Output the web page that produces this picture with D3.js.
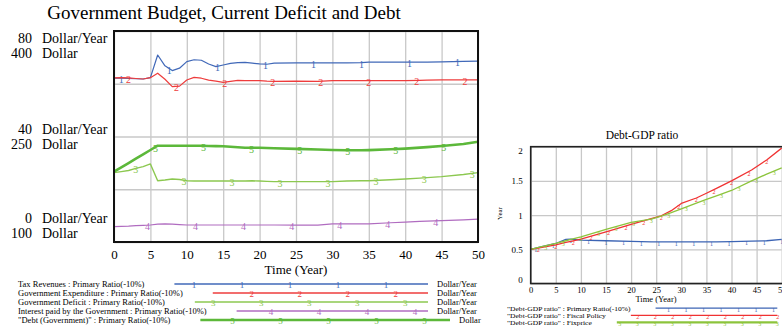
<!DOCTYPE html>
<html>
<head>
<meta charset="utf-8">
<script src="https://cdn.jsdelivr.net/npm/d3@7"></script>
<style>
  body { margin: 0; background: #fff; }
  svg { display: block; }
  text { font-family: "Liberation Serif", "Times New Roman", serif; fill: #000; }
</style>
</head>
<body>
<svg id="chart" width="782" height="331"></svg>
<script>
// ---- Government budget panel data (time in years) ----
const years = [0,1,2,3,4,5,6,7,8,9,10,11,12,13,14,15,16,17,18,19,20,21,22,25,28,30,32,34,35,38,40,42,43,45,48,50];
const taxRevenues = [62.1,62.1,62.0,61.9,61.8,62.3,70.9,66.8,65.0,65.9,68.4,69.1,68.9,67.5,66.5,67.1,67.7,68.0,68.1,67.8,67.5,67.4,67.8,67.9,67.9,67.9,67.9,68.0,68.2,68.2,68.2,68.2,68.2,68.3,68.5,68.6];
const govExpenditure = [62.2,62.3,62.2,62.0,61.8,62.3,64.0,61.7,58.9,59.1,61.4,62.4,62.1,61.4,61.0,60.5,60.9,61.3,61.2,61.2,61.2,61.0,60.9,61.0,60.9,61.2,61.2,61.2,61.2,61.2,61.2,61.3,61.4,61.5,61.5,61.5];
const govDeficit = [26.3,26.7,27.1,27.9,28.6,29.6,23.2,23.5,23.9,23.7,23.2,23.1,23.1,23.1,23.1,23.1,23.1,23.1,23.1,23.2,23.1,23.0,22.9,22.9,22.9,22.9,23.1,23.2,23.2,23.6,23.9,24.2,24.4,24.8,25.6,26.3];
const interestPaid = [5.8,5.9,6.0,6.2,6.3,6.45,6.8,6.9,6.8,6.6,6.45,6.45,6.45,6.45,6.45,6.45,6.45,6.45,6.45,6.45,6.45,6.45,6.45,6.4,6.4,6.9,6.9,6.9,6.9,7.3,7.5,7.8,7.9,8.1,8.4,8.7];
const govDebt = [200,206.2,212.3,218.5,224.7,230.8,236.9,236.9,236.9,236.9,236.9,236.9,236.8,236.6,236.3,236.1,235.5,234.8,234.1,234.1,234.0,233.6,233.2,232.4,231.5,230.8,230.4,230.4,230.6,231.8,232.8,234.2,234.9,236.5,239.3,242.6];

const timeTicks = [0,5,10,15,20,25,30,35,40,45,50];
const rateTicks = [0,40,80];          // Dollar/Year
const dollarTicks = [100,250,400];    // Dollar
const rateGrid = [0,20,40,60,80];

// ---- Debt-GDP ratio panel data ----
const ratioYears = [0,2,5,7,8,10,15,20,24,26,28,30,33,35,37,40,44,47,50];
const ratioPrimary = [0.5,0.535,0.585,0.645,0.65,0.635,0.625,0.615,0.61,0.61,0.61,0.61,0.61,0.61,0.61,0.612,0.62,0.625,0.645];
const ratioFiscal = [0.5,0.525,0.565,0.6,0.615,0.65,0.755,0.865,0.95,0.99,1.065,1.17,1.25,1.32,1.39,1.5,1.66,1.805,1.98];
const ratioFixprice = [0.5,0.535,0.585,0.625,0.645,0.68,0.79,0.895,0.94,0.985,1.035,1.09,1.175,1.23,1.28,1.36,1.5,1.6,1.69];
const ratioTicks = [0,0.5,1,1.5,2];

const svg = d3.select("#chart");
const GRID = "#c8c8c8";

// ================= Left panel =================
const M = { left: 114, right: 478, top: 31, bottom: 242 };
const x = d3.scaleLinear().domain([0, 50]).range([M.left, M.right]);
const yRate = d3.scaleLinear().domain([0, 80]).range([M.bottom, M.top]);
const yDollar = d3.scaleLinear().domain([100, 400]).range([M.bottom, M.top]);

svg.append("text").attr("x", 224).attr("y", 19).attr("text-anchor", "middle")
  .attr("font-size", 19).text("Government Budget, Current Deficit and Debt");

// vertical grid + time tick labels
const xAxis = svg.append("g").attr("transform", `translate(0,${M.bottom})`)
  .call(d3.axisBottom(x).tickValues(timeTicks).tickSizeInner(-(M.bottom - M.top)).tickSizeOuter(0).tickPadding(7.5));
xAxis.select(".domain").remove();
xAxis.selectAll("line").attr("stroke", GRID).attr("stroke-width", 1.3);
xAxis.selectAll("text").attr("font-size", 13).attr("font-family", "Liberation Serif");

// horizontal grid
const yGrid = svg.append("g").attr("transform", `translate(${M.left},0)`)
  .call(d3.axisLeft(yRate).tickValues(rateGrid).tickSizeInner(-(M.right - M.left)).tickSizeOuter(0).tickFormat(""));
yGrid.select(".domain").remove();
yGrid.selectAll("line").attr("stroke", GRID).attr("stroke-width", 1.3);

// paired value labels on the left (Dollar/Year over Dollar)
rateTicks.forEach((v, k) => {
  const yc = yRate(v);
  const top = Math.max(M.top, Math.min(yc - 15, M.bottom - 31.5));
  const rows = [[d3.format("d")(v), "Dollar/Year"], [d3.format("d")(dollarTicks[k]), "Dollar"]];
  rows.forEach((r, ri) => {
    const yb = top + 12 + ri * 15;
    svg.append("text").attr("x", 32).attr("y", yb).attr("text-anchor", "end").attr("font-size", 14).text(r[0]);
    svg.append("text").attr("x", 42).attr("y", yb).attr("font-size", 14).text(r[1]);
  });
});

svg.append("text").attr("x", 296).attr("y", 274).attr("text-anchor", "middle")
  .attr("font-size", 13).text("Time (Year)");

const mainSeries = [
  { label: "Tax Revenues : Primary Ratio(-10%)", unit: "Dollar/Year", values: taxRevenues, scale: yRate, color: "#4068b8", width: 1.2, legendEnd: 428 },
  { label: "Government Expenditure : Primary Ratio(-10%)", unit: "Dollar/Year", values: govExpenditure, scale: yRate, color: "#ee3c3c", width: 1.2, legendEnd: 428 },
  { label: "Government Deficit : Primary Ratio(-10%)", unit: "Dollar/Year", values: govDeficit, scale: yRate, color: "#8cc850", width: 1.4, legendEnd: 428 },
  { label: "Interest paid by the Government : Primary Ratio(-10%)", unit: "Dollar/Year", values: interestPaid, scale: yRate, color: "#b06cc0", width: 1.2, legendEnd: 428 },
  { label: "\"Debt (Government)\" : Primary Ratio(-10%)", unit: "Dollar", values: govDebt, scale: yDollar, color: "#5cb83a", width: 2.6, legendEnd: 450 }
];
const markStart = [1, 2, 3, 4.6, 5.7];
const markStep = 6.6;

const plot = svg.append("g");
mainSeries.forEach((s, i) => {
  const pts = years.map((t, j) => [t, s.values[j]]);
  plot.append("path").datum(pts)
    .attr("fill", "none").attr("stroke", s.color).attr("stroke-width", s.width)
    .attr("stroke-linejoin", "round")
    .attr("d", d3.line().x(d => x(d[0])).y(d => s.scale(d[1])));
  const at = d3.scaleLinear().domain(years).range(s.values);
  plot.append("g").selectAll("text").data(d3.range(markStart[i], 50.01, markStep)).join("text")
    .attr("x", t => x(t)).attr("y", t => s.scale(at(t)) + 1.5)
    .attr("text-anchor", "middle").attr("dominant-baseline", "central")
    .attr("font-size", 10).style("fill", s.color).text(i + 1);
});

svg.append("rect").attr("x", M.left).attr("y", M.top)
  .attr("width", M.right - M.left).attr("height", M.bottom - M.top)
  .attr("fill", "none").attr("stroke", "#111").attr("stroke-width", 2);

// legend
const legendRows = [284, 293, 302, 311, 320];
mainSeries.forEach((s, i) => {
  const yc = legendRows[i];
  const t = svg.append("text").attr("x", 18).attr("y", yc + 3).attr("font-size", 8.5).text(s.label);
  const x0 = 18 + t.node().getComputedTextLength() + 30;
  svg.append("line").attr("x1", x0).attr("x2", s.legendEnd).attr("y1", yc).attr("y2", yc)
    .attr("stroke", s.color).attr("stroke-width", Math.max(s.width, 1.3));
  const marks = d3.range(194 + 9.65 * i, s.legendEnd - 2, 48).filter(m => m > x0 + 2);
  svg.append("g").selectAll("text").data(marks).join("text")
    .attr("x", m => m).attr("y", yc + 1).attr("text-anchor", "middle").attr("dominant-baseline", "central")
    .attr("font-size", 9).style("fill", s.color).text(i + 1);
  svg.append("text").attr("x", s.legendEnd + 9).attr("y", yc + 3).attr("font-size", 8.5).text(s.unit);
});

// ================= Right panel =================
const R = { left: 530.7, right: 781.7, top: 146.7, bottom: 283.5 };
const xr = d3.scaleLinear().domain([0, 50]).range([R.left, R.right]);
const yr = d3.scaleLinear().domain([0, 2]).range([R.bottom, R.top]);

svg.append("text").attr("x", 642).attr("y", 139).attr("text-anchor", "middle")
  .attr("font-size", 11.5).text("Debt-GDP ratio");

const xrAxis = svg.append("g").attr("transform", `translate(0,${R.bottom})`)
  .call(d3.axisBottom(xr).tickValues(timeTicks).tickSizeInner(-(R.bottom - R.top)).tickSizeOuter(0).tickPadding(3));
xrAxis.select(".domain").remove();
xrAxis.selectAll("line").attr("stroke", GRID).attr("stroke-width", 1.3);
xrAxis.selectAll("text").attr("font-size", 8.5).attr("font-family", "Liberation Serif");

const yrAxis = svg.append("g").attr("transform", `translate(${R.left},0)`)
  .call(d3.axisLeft(yr).tickValues(ratioTicks).tickSizeInner(-(R.right - R.left)).tickSizeOuter(0).tickPadding(8).tickFormat(d3.format("")));
yrAxis.select(".domain").remove();
yrAxis.selectAll("line").attr("stroke", GRID).attr("stroke-width", 1.3);
yrAxis.selectAll("text").attr("font-size", 9).attr("font-family", "Liberation Serif")
  .attr("dy", null).attr("dominant-baseline", "central")
  .attr("y", d => { const yc = yr(d); return Math.max(R.top + 4, Math.min(yc, R.bottom - 4)) - yc; });

svg.append("text").attr("x", 656).attr("y", 301.5).attr("text-anchor", "middle")
  .attr("font-size", 8.5).text("Time (Year)");
svg.append("text").attr("transform", "translate(502,213.5) rotate(-90)").attr("text-anchor", "middle")
  .attr("font-size", 7).text("Year");

const ratioSeries = [
  { label: "\"Debt-GDP ratio\" : Primary Ratio(-10%)", values: ratioPrimary, color: "#3c64b4", width: 1.3, legendWidth: 1.3 },
  { label: "\"Debt-GDP ratio\" : Fiscal Policy", values: ratioFiscal, color: "#f03232", width: 1.3, legendWidth: 1.3 },
  { label: "\"Debt-GDP ratio\" : Fixprice", values: ratioFixprice, color: "#8cc43c", width: 1.3, legendWidth: 2.2 }
];
const ratioMarkStart = [1, 1.5, 3];
const ratioLegendPhase = [13, 7, 3];

ratioSeries.forEach((s, i) => {
  const pts = ratioYears.map((t, j) => [t, s.values[j]]);
  svg.append("path").datum(pts)
    .attr("fill", "none").attr("stroke", s.color).attr("stroke-width", s.width)
    .attr("stroke-linejoin", "round")
    .attr("d", d3.line().x(d => xr(d[0])).y(d => yr(d[1])));
  const at = d3.scaleLinear().domain(ratioYears).range(s.values);
  svg.append("g").selectAll("text").data(d3.range(ratioMarkStart[i], 50.01, 3.5)).join("text")
    .attr("x", t => xr(t)).attr("y", t => yr(at(t)) + 2.2)
    .attr("text-anchor", "middle").attr("dominant-baseline", "central")
    .attr("font-size", 6).style("fill", s.color).text(i + 1);
});

svg.append("rect").attr("x", R.left).attr("y", R.top)
  .attr("width", R.right - R.left + 2).attr("height", R.bottom - R.top)
  .attr("fill", "none").attr("stroke", "#222").attr("stroke-width", 1.6);

// legend: slightly condensed serif text, stretched horizontally to the row width
const ratioLegendRows = [308.2, 315.3, 322.4];
ratioSeries.forEach((s, i) => {
  const yc = ratioLegendRows[i];
  const t = svg.append("text").attr("transform", `translate(507,${yc + 2.3}) scale(1.08,1)`)
    .attr("font-size", 7).text(s.label);
  const x0 = 507 + t.node().getComputedTextLength() * 1.08 + 25;
  const x1 = 777.3;
  svg.append("line").attr("x1", x0).attr("x2", x1).attr("y1", yc).attr("y2", yc)
    .attr("stroke", s.color).attr("stroke-width", s.legendWidth);
  svg.append("g").selectAll("text").data(d3.range(x0 + ratioLegendPhase[i], x1 + 1, 17.5)).join("text")
    .attr("x", m => m).attr("y", yc + 1.5).attr("text-anchor", "middle").attr("dominant-baseline", "central")
    .attr("font-size", 6).style("fill", s.color).text(i + 1);
});
</script>
</body>
</html>
